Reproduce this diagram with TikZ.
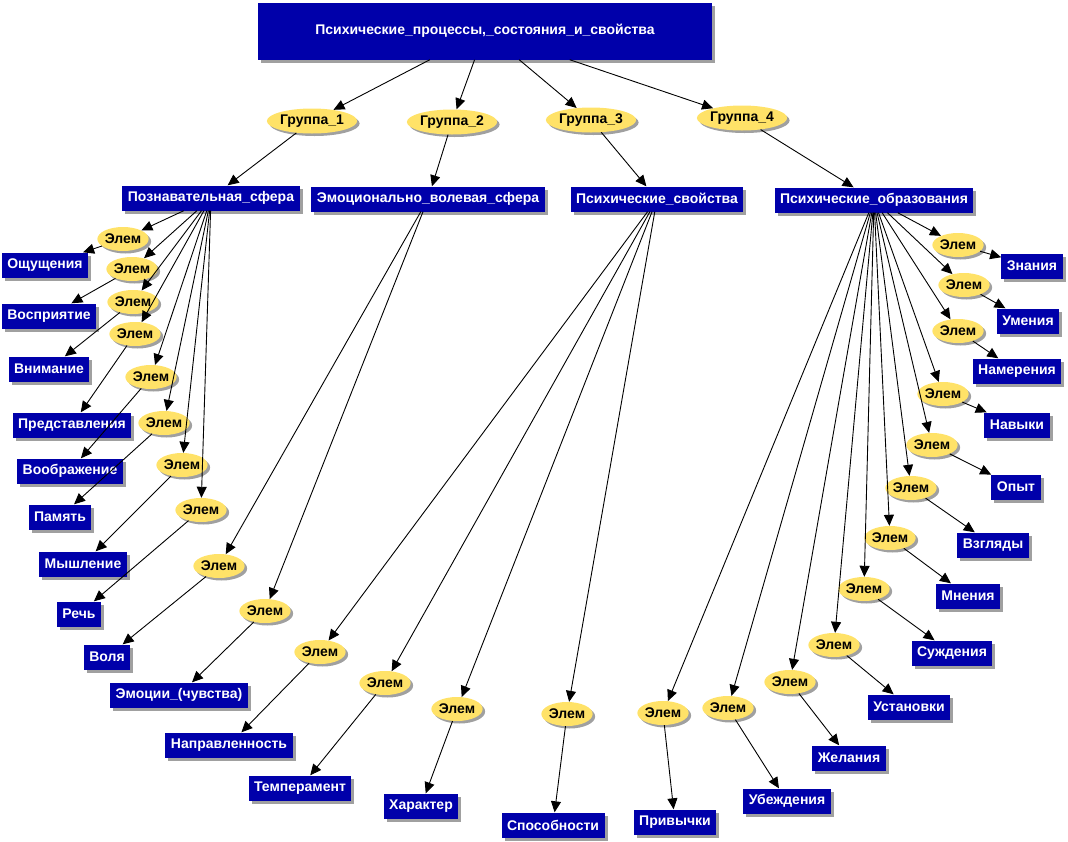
\documentclass[tikz,border=0pt]{standalone}
\usepackage{fontspec}
\setmainfont{Liberation Sans}
\usepackage{tikz}
\usetikzlibrary{
  arrows.meta,
  positioning,
  shapes.geometric,
  shadows
}
\definecolor{boxblue}{RGB}{0,0,170}
\definecolor{elemyellow}{RGB}{255,226,104}
\definecolor{shadowgray}{RGB}{160,160,160}

\begin{document}
\begin{tikzpicture}[
  x=1pt, y=-1pt,
  box/.style={
    rectangle,
    fill=boxblue,
    text=white,
    minimum height=25pt,
    inner xsep=5.5pt,
    inner ysep=2pt,
    font=\fontsize{14}{16}\selectfont\bfseries,
    drop shadow={shadow xshift=3pt, shadow yshift=-3pt, fill=shadowgray, opacity=1},
  },
  bigbox/.style={
    box,
    minimum width=454pt,
    minimum height=57pt,
  },
  elem/.style={
    ellipse,
    fill=elemyellow,
    text=black,
    minimum width=49pt,
    minimum height=24pt,
    inner sep=0pt,
    font=\fontsize{14}{16}\selectfont\bfseries,
    drop shadow={shadow xshift=2.5pt, shadow yshift=-2.5pt, fill=shadowgray, opacity=1},
  },
  group/.style={
    elem,
    minimum width=80pt,
    minimum height=25pt,
  },
  arrow/.style={-{Triangle[length=11pt, width=10pt]}, line width=0.9pt, black},
]
\useasboundingbox (0,0) rectangle (1068,841);

% ── Root ──
\node[bigbox] (root) at (485,31) {Психические\_процессы,\_состояния\_и\_свойства};

% ── Groups ──
\node[group] (grp1) at (312,121) {Группа\_1};
\node[group] (grp2) at (452,122) {Группа\_2};
\node[group] (grp3) at (591,120) {Группа\_3};
\node[group] (grp4) at (742,118) {Группа\_4};

% ── Spheres ──
\node[box] (pozn)  at (211,198) {Познавательная\_сфера};
\node[box] (emo)   at (428,199) {Эмоционально\_волевая\_сфера};
\node[box] (svoj)  at (657,199) {Психические\_свойства};
\node[box] (obraz) at (874,200) {Психические\_образования};

\draw[arrow] (root) -- (grp1);
\draw[arrow] (root) -- (grp2);
\draw[arrow] (root) -- (grp3);
\draw[arrow] (root) -- (grp4);
\draw[arrow] (grp1) -- (pozn);
\draw[arrow] (grp2) -- (emo);
\draw[arrow] (grp3) -- (svoj);
\draw[arrow] (grp4) -- (obraz);

% ── Познавательная сфера ──
\node[elem] (p1) at (123,239) {Элем};
\node[elem] (p2) at (132,269) {Элем};
\node[elem] (p3) at (133,302) {Элем};
\node[elem] (p4) at (135,334) {Элем};
\node[elem] (p5) at (151,377) {Элем};
\node[elem] (p6) at (164,423) {Элем};
\node[elem] (p7) at (182,465) {Элем};
\node[elem] (p8) at (201,510) {Элем};

\node[box] (oshch)  at (45,265)  {Ощущения};
\node[box] (vospr)  at (49,316)  {Восприятие};
\node[box] (vnim)   at (49,369)  {Внимание};
\node[box] (predst) at (72,425)  {Представления};
\node[box] (voobr)  at (70,471)  {Воображение};
\node[box] (pamyat) at (60,517)  {Память};
\node[box] (myshl)  at (83,564)  {Мышление};
\node[box] (rech)   at (79,614)  {Речь};

\draw[arrow] (pozn) -- (p1);
\draw[arrow] (pozn) -- (p2);
\draw[arrow] (pozn) -- (p3);
\draw[arrow] (pozn) -- (p4);
\draw[arrow] (pozn) -- (p5);
\draw[arrow] (pozn) -- (p6);
\draw[arrow] (pozn) -- (p7);
\draw[arrow] (pozn) -- (p8);
\draw[arrow] (p1) -- (oshch);
\draw[arrow] (p2) -- (vospr);
\draw[arrow] (p3) -- (vnim);
\draw[arrow] (p4) -- (predst);
\draw[arrow] (p5) -- (voobr);
\draw[arrow] (p6) -- (pamyat);
\draw[arrow] (p7) -- (myshl);
\draw[arrow] (p8) -- (rech);

% ── Эмоционально-волевая сфера ──
\node[elem] (m1) at (219,566) {Элем};
\node[elem] (m2) at (265,611) {Элем};
\node[box] (volya)  at (107,657) {Воля};
\node[box] (emocii) at (179,695) {Эмоции\_(чувства)};

\draw[arrow] (emo) -- (m1);
\draw[arrow] (emo) -- (m2);
\draw[arrow] (m1) -- (volya);
\draw[arrow] (m2) -- (emocii);

% ── Психические свойства ──
\node[elem] (s1) at (320,652) {Элем};
\node[elem] (s2) at (385,683) {Элем};
\node[elem] (s3) at (457,709) {Элем};
\node[elem] (s4) at (567,714) {Элем};
\node[box] (napr)  at (229,745) {Направленность};
\node[box] (temp)  at (300,788) {Темперамент};
\node[box] (har)   at (421,806) {Характер};
\node[box] (sposob) at (553,825) {Способности};

\draw[arrow] (svoj) -- (s1);
\draw[arrow] (svoj) -- (s2);
\draw[arrow] (svoj) -- (s3);
\draw[arrow] (svoj) -- (s4);
\draw[arrow] (s1) -- (napr);
\draw[arrow] (s2) -- (temp);
\draw[arrow] (s3) -- (har);
\draw[arrow] (s4) -- (sposob);

% ── Психические образования ──
\node[elem] (o1)  at (958,245) {Элем};
\node[elem] (o2)  at (964,285) {Элем};
\node[elem] (o3)  at (958,331) {Элем};
\node[elem] (o4)  at (943,394) {Элем};
\node[elem] (o5)  at (932,445) {Элем};
\node[elem] (o6)  at (911,488) {Элем};
\node[elem] (o7)  at (890,538) {Элем};
\node[elem] (o8)  at (864,589) {Элем};
\node[elem] (o9)  at (834,645) {Элем};
\node[elem] (o10) at (790,682) {Элем};
\node[elem] (o11) at (728,708) {Элем};
\node[elem] (o12) at (663,713) {Элем};

\node[box] (znan)   at (1032,266) {Знания};
\node[box] (umen)   at (1028,321) {Умения};
\node[box] (namer)  at (1017,371) {Намерения};
\node[box] (navyk)  at (1017,425) {Навыки};
\node[box] (opyt)   at (1016,487) {Опыт};
\node[box] (vzgl)   at (993,545)  {Взгляды};
\node[box] (mnen)   at (968,596)  {Мнения};
\node[box] (suzhd)  at (952,653)  {Суждения};
\node[box] (ustan)  at (909,707)  {Установки};
\node[box] (zhel)   at (849,758)  {Желания};
\node[box] (ubezh)  at (787,801)  {Убеждения};
\node[box] (privych) at (675,822) {Привычки};

\draw[arrow] (obraz) -- (o1);
\draw[arrow] (obraz) -- (o2);
\draw[arrow] (obraz) -- (o3);
\draw[arrow] (obraz) -- (o4);
\draw[arrow] (obraz) -- (o5);
\draw[arrow] (obraz) -- (o6);
\draw[arrow] (obraz) -- (o7);
\draw[arrow] (obraz) -- (o8);
\draw[arrow] (obraz) -- (o9);
\draw[arrow] (obraz) -- (o10);
\draw[arrow] (obraz) -- (o11);
\draw[arrow] (obraz) -- (o12);
\draw[arrow] (o1) -- (znan);
\draw[arrow] (o2) -- (umen);
\draw[arrow] (o3) -- (namer);
\draw[arrow] (o4) -- (navyk);
\draw[arrow] (o5) -- (opyt);
\draw[arrow] (o6) -- (vzgl);
\draw[arrow] (o7) -- (mnen);
\draw[arrow] (o8) -- (suzhd);
\draw[arrow] (o9) -- (ustan);
\draw[arrow] (o10) -- (zhel);
\draw[arrow] (o11) -- (ubezh);
\draw[arrow] (o12) -- (privych);

\end{tikzpicture}
\end{document}
